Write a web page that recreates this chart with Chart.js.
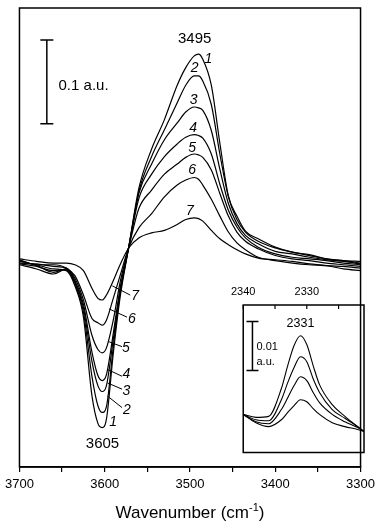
<!DOCTYPE html>
<html><head><meta charset="utf-8">
<script src="https://cdn.jsdelivr.net/npm/chart.js@4.4.1/dist/chart.umd.min.js"></script>
<style>
html,body{margin:0;padding:0;background:#fff;}
#wrap{position:relative;width:380px;height:525px;overflow:hidden;}
#main{position:absolute;left:0;top:0;}
#inset{position:absolute;left:225px;top:280px;}
</style></head><body>
<div id="wrap"><canvas id="main" width="380" height="525"></canvas><canvas id="inset" width="150" height="180"></canvas></div>
<script>
// ---- main spectra: wavenumber (cm-1) and difference absorbance (x10^-3 a.u.) ----
const wavenumbers = [3700,3680,3660,3645,3635,3625,3615,3608,3603,3598,3590,3582,3572,3560,3545,3530,3515,3505,3495,3490,3485,3475,3465,3455,3445,3435,3420,3400,3380,3360,3340,3320,3300];
const curve1 = [4,0,-5,-7,-25,-62,-156,-189,-194,-184,-106,-39,20,91,138,173,214,235,249,251,245,214,145,82,58,40,31,21,15,12,7,5,4];
const curve2 = [1,-2,-7,-6,-22,-56,-133,-168,-176,-169,-98,-35,20,87,129,161,193,214,225,225,219,191,132,81,54,39,28,20,15,11,7,5,2];
const curve3 = [5,-1,-9,-5,-20,-51,-115,-144,-151,-144,-89,-32,20,85,120,149,169,182,188,187,184,160,114,73,49,35,25,16,13,9,6,4,1];
const curve4 = [0,-5,-11,-5,-19,-47,-104,-132,-138,-131,-82,-28,20,79,108,129,144,152,155,154,151,132,96,65,45,32,21,13,9,7,5,2,0];
const curve5 = [2,1,-2,-4,-16,-42,-84,-101,-105,-99,-66,-21,20,67,89,108,120,128,132,131,128,113,85,58,39,28,19,11,7,5,2,0,-2];
const curve6 = [6,0,0,-4,-13,-36,-64,-69,-72,-66,-40,-13,20,44,61,81,95,101,104,102,95,78,58,39,26,18,9,5,2,0,-1,-2,-4];
const curve7 = [7,4,2,2,0,-7,-28,-40,-42,-36,-19,0,20,32,38,41,48,54,56,55,52,41,31,24,18,13,8,6,4,1,-1,-5,-7];
const xTicks = [3700,3650,3600,3550,3500,3450,3400,3350,3300];

// ---- inset: CO2 region ----
const insetWn = [2340,2338,2336,2334,2333,2332,2331,2330,2329,2328,2326,2324,2322,2321];
const inset1 = [3.5,2.9,3.1,8.8,13.5,17.6,19.6,17.8,13.5,9.6,5.5,3.1,1.0,0];
const inset2 = [3.5,2.4,2.2,6.5,10.0,13.1,15.3,14.3,10.8,8.0,4.5,2.7,1.0,0];
const inset3 = [3.5,2.0,1.6,4.5,6.9,9.4,11.2,10.4,8.0,5.9,3.5,2.0,0.8,0];
const inset4 = [3.5,1.8,1.0,2.4,3.9,5.3,6.5,6.1,4.7,3.5,1.8,1.0,0.4,0];
const insetTicks = [2340,2335,2330,2325];

// ---- annotations (data units) ----
const peakLabels = [['1',3478.5,245.5],['2',3494.5,233.8],['3',3495.6,196.5],['4',3496.3,162.4],['5',3497.5,138.8],['6',3497.5,112.9],['7',3500.2,64.4]];
const dipLabels = [['7',3564.4,-37.6],['6',3568.2,-64.4],['5',3575.1,-99.6],['4',3574.7,-130.2],['3',3574.7,-150.6],['2',3573.9,-173.3],['1',3590,-187.9]];
const leaders = [[3591.1,-25.1,3570.1,-36.1],[3594.9,-52.6,3573.9,-62.4],[3594.9,-91.8,3579.7,-97.6],[3596.8,-124.7,3579.7,-132.9],[3596.8,-140.8,3579.7,-148.2],[3596.8,-156.5,3579.7,-170.2]];
const bandLabels = [['3495',3494.5,269.4],['3605',3602.6,-212.9]];
const scaleBar = {x:3667.9, y0:168, y1:268, text:'0.1 a.u.', tx:3654.2, ty:212.9};
const insetScaleBar = {x:2338.55, y0:12.5, y1:22.5};
const insetBand = ['2331',2331.0,22.1];

const FONT = "'Liberation Sans', Arial, Helvetica, sans-serif";

function lineSet(xs, ys, w){
  return {data: xs.map((x,i)=>({x:x,y:ys[i]})), borderColor:'#000', borderWidth:w, pointRadius:0,
          fill:false, cubicInterpolationMode:'monotone'};
}
function barSet(x, y0, y1, r){
  return {data:[{x:x,y:y0},{x:x,y:y1}], borderColor:'#000', borderWidth:1.5, tension:0,
          pointStyle:'line', pointRadius:r, pointBorderWidth:1.5, pointBorderColor:'#000', pointBackgroundColor:'#000'};
}

const mainDecor = {
  id:'mainDecor',
  afterDraw(chart){
    const ctx = chart.ctx, a = chart.chartArea, xs = chart.scales.x, ys = chart.scales.y;
    const px = v=>xs.getPixelForValue(v), py = v=>ys.getPixelForValue(v);
    ctx.save();
    ctx.strokeStyle='#000'; ctx.fillStyle='#000'; ctx.lineWidth=1.5;
    ctx.strokeRect(a.left, a.top, a.right-a.left, a.bottom-a.top);
    ctx.lineWidth=1;
    leaders.forEach(l=>{ctx.beginPath();ctx.moveTo(px(l[0]),py(l[1]));ctx.lineTo(px(l[2]),py(l[3]));ctx.stroke();});
    ctx.textAlign='center'; ctx.textBaseline='middle';
    ctx.font='italic 14px '+FONT;
    peakLabels.concat(dipLabels).forEach(t=>ctx.fillText(t[0],px(t[1]),py(t[2])));
    ctx.font='15px '+FONT;
    bandLabels.forEach(t=>ctx.fillText(t[0],px(t[1]),py(t[2])));
    ctx.textAlign='left';
    ctx.fillText(scaleBar.text, px(scaleBar.tx), py(scaleBar.ty));
    // axis title with superscript
    const main='Wavenumber (cm', sup='-1', end=')';
    ctx.font='17px '+FONT; const w1=ctx.measureText(main).width, w3=ctx.measureText(end).width;
    ctx.font='11px '+FONT; const w2=ctx.measureText(sup).width;
    const tot=w1+w2+w3, cx=(a.left+a.right)/2, base=xs.bottom-7;
    let x0=cx-tot/2;
    ctx.textBaseline='alphabetic';
    ctx.font='17px '+FONT; ctx.fillText(main,x0,base);
    ctx.font='11px '+FONT; ctx.fillText(sup,x0+w1,base-7);
    ctx.font='17px '+FONT; ctx.fillText(end,x0+w1+w2,base);
    ctx.restore();
  }
};

new Chart(document.getElementById('main'), {
  type:'line',
  data:{datasets:[curve1,curve2,curve3,curve4,curve5,curve6,curve7].map(c=>lineSet(wavenumbers,c,1.2))
        .concat([barSet(scaleBar.x,scaleBar.y0,scaleBar.y1,6.5)])},
  options:{
    responsive:false, animation:false, devicePixelRatio:1,
    layout:{padding:{left:15,right:16,top:2,bottom:0}},
    plugins:{legend:{display:false},tooltip:{enabled:false}},
    scales:{
      x:{type:'linear', reverse:true, min:3300, max:3700, position:'bottom',
         afterBuildTicks:s=>{s.ticks=xTicks.map(v=>({value:v}));},
         afterFit:s=>{s.height=58;},
         ticks:{callback:v=>(v%100===0?String(v):''), font:{family:FONT,size:13}, color:'#000', maxRotation:0, autoSkip:false, padding:5},
         grid:{display:true, drawOnChartArea:false, drawTicks:true, tickLength:5, color:'#000', lineWidth:1.2},
         border:{display:true,color:'#000',width:1.5}},
      y:{display:false, min:-241, max:306}
    }
  },
  plugins:[mainDecor]
});

const insetDecor = {
  id:'insetDecor',
  afterDraw(chart){
    const ctx=chart.ctx, a=chart.chartArea, xs=chart.scales.x, ys=chart.scales.y;
    const px=v=>xs.getPixelForValue(v), py=v=>ys.getPixelForValue(v);
    ctx.save();
    ctx.strokeStyle='#000'; ctx.fillStyle='#000'; ctx.lineWidth=1.5;
    ctx.strokeRect(a.left,a.top,a.right-a.left,a.bottom-a.top);
    ctx.lineWidth=1.2;
    insetTicks.forEach(t=>{const x=px(t);ctx.beginPath();ctx.moveTo(x,a.top);ctx.lineTo(x,a.top+4);ctx.stroke();});
    ctx.textAlign='center'; ctx.textBaseline='middle';
    ctx.font='12.5px '+FONT;
    ctx.fillText(insetBand[0],px(insetBand[1]),py(insetBand[2]));
    ctx.textAlign='left'; ctx.font='11px '+FONT;
    const bx=px(insetScaleBar.x)+4;
    ctx.fillText('0.01',bx,py(17.4));
    ctx.fillText('a.u.',bx,py(14.3));
    ctx.restore();
  }
};

new Chart(document.getElementById('inset'), {
  type:'line',
  data:{datasets:[inset1,inset2,inset3,inset4].map(c=>lineSet(insetWn,c,1.1))
        .concat([barSet(insetScaleBar.x,insetScaleBar.y0,insetScaleBar.y1,6)])},
  options:{
    responsive:false, animation:false, devicePixelRatio:1,
    layout:{padding:{left:14,right:11,top:0,bottom:7}},
    plugins:{legend:{display:false},tooltip:{enabled:false}},
    scales:{
      x:{type:'linear', reverse:true, min:2321, max:2340, position:'top',
         afterBuildTicks:s=>{s.ticks=insetTicks.map(v=>({value:v}));},
         afterFit:s=>{s.height=25;},
         ticks:{callback:v=>(v%10===0?String(v):''), font:{family:FONT,size:11}, color:'#000', maxRotation:0, autoSkip:false, padding:6},
         grid:{display:false, drawTicks:false},
         border:{display:false}},
      y:{display:false, min:-4.3, max:25.9}
    }
  },
  plugins:[insetDecor]
});
</script>
</body></html>
